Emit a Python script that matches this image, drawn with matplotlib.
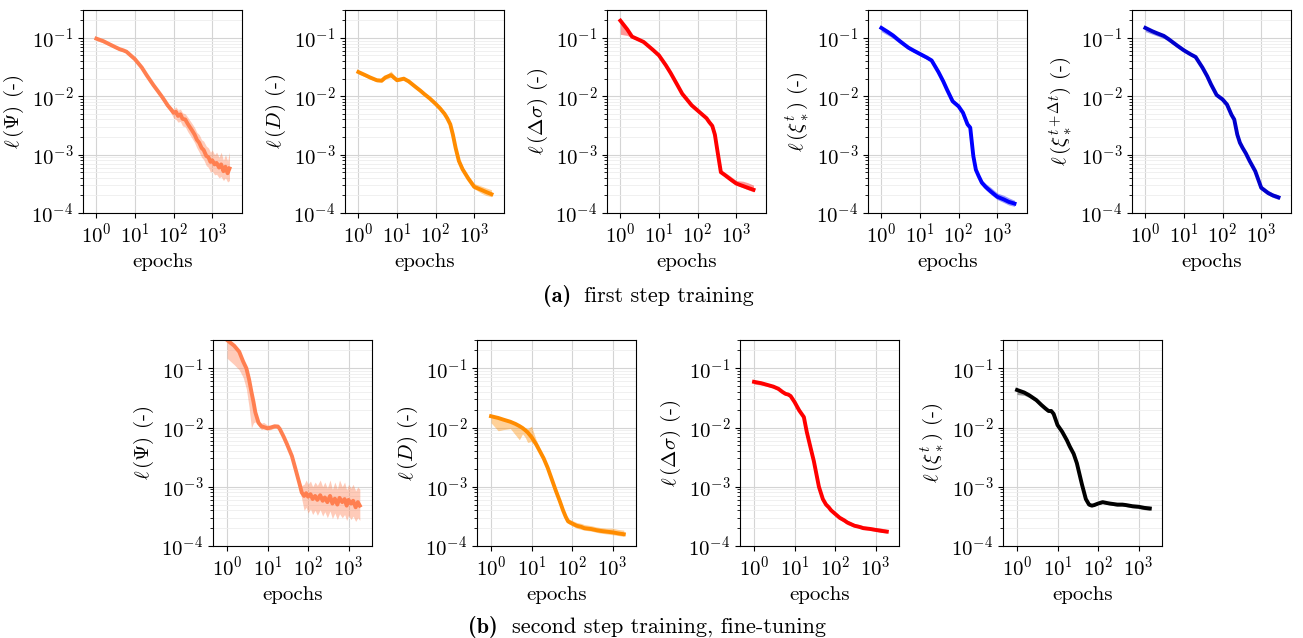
import matplotlib
matplotlib.use("Agg")
import matplotlib.pyplot as plt
import matplotlib.ticker as mticker

plt.rcParams["font.family"] = "serif"
plt.rcParams["font.serif"] = ["cmr10"]
plt.rcParams["mathtext.fontset"] = "cm"
plt.rcParams["axes.formatter.use_mathtext"] = True
plt.rcParams["axes.unicode_minus"] = False

# ---- first step training (top row) ----
ep_psi1 = [1, 1.5, 2, 3, 4, 5, 6, 7, 10, 15, 20, 30, 40, 50, 60, 70, 85, 100, 115, 130,
           150, 170, 200, 230, 260, 300, 350, 400, 460, 530, 600, 700, 800, 900, 1000,
           1150, 1300, 1500, 1700, 1950, 2200, 2500, 2800]
psi1_mean = [0.097, 0.088, 0.08, 0.07, 0.064, 0.061, 0.058, 0.053, 0.043, 0.031, 0.023,
             0.0155, 0.012, 0.0098, 0.0082, 0.007, 0.006, 0.0052, 0.0054, 0.0046, 0.0049,
             0.0041, 0.0040, 0.0034, 0.0030, 0.0026, 0.0022, 0.0018, 0.0016, 0.0013, 0.0012,
             0.00095, 0.0009, 0.00075, 0.0008, 0.00068, 0.00072, 0.0006, 0.00068, 0.00052,
             0.00062, 0.00048, 0.00058]
psi1_lo = [0.09, 0.082, 0.075, 0.066, 0.06, 0.058, 0.055, 0.05, 0.041, 0.029, 0.021,
           0.014, 0.011, 0.0088, 0.0072, 0.0062, 0.0052, 0.0042, 0.0040, 0.0036, 0.0037,
           0.0031, 0.0030, 0.0025, 0.0022, 0.0019, 0.0016, 0.0013, 0.0011, 0.0009, 0.00082,
           0.00065, 0.0006, 0.0005, 0.00052, 0.00045, 0.00046, 0.0004, 0.00042, 0.00036,
           0.0004, 0.00034, 0.00036]
psi1_hi = [0.1, 0.092, 0.083, 0.073, 0.067, 0.063, 0.06, 0.055, 0.045, 0.032, 0.024,
           0.0162, 0.0126, 0.0105, 0.0088, 0.0076, 0.0066, 0.006, 0.0066, 0.0058, 0.006,
           0.0052, 0.0050, 0.0044, 0.0039, 0.0034, 0.0029, 0.0024, 0.0022, 0.0018, 0.0017,
           0.0014, 0.0013, 0.0011, 0.0012, 0.001, 0.0011, 0.0009, 0.0011, 0.0008, 0.001,
           0.00078, 0.0011]

ep_top = [1, 1.5, 2, 3, 4, 5, 7, 10, 15, 20, 30, 40, 50, 70, 100, 130, 170, 200, 240,
          280, 330, 400, 500, 700, 1000, 1500, 2000, 2800]

d1_mean = [0.026, 0.023, 0.021, 0.0188, 0.0185, 0.021, 0.023, 0.0188, 0.020, 0.018, 0.0145,
           0.0125, 0.011, 0.0092, 0.0074, 0.0062, 0.0050, 0.0042, 0.0033, 0.0022, 0.0013,
           0.00078, 0.00056, 0.00039, 0.00028, 0.00025, 0.00023, 0.00021]
d1_lo = [0.024, 0.0215, 0.0196, 0.0176, 0.0173, 0.0195, 0.021, 0.0178, 0.0188, 0.0168, 0.0136,
         0.0117, 0.0103, 0.0086, 0.0069, 0.0058, 0.0047, 0.0039, 0.0031, 0.002, 0.0012,
         0.00072, 0.00051, 0.00036, 0.00026, 0.00022, 0.0002, 0.00019]
d1_hi = [0.0275, 0.0245, 0.0224, 0.02, 0.0197, 0.0225, 0.027, 0.0198, 0.0212, 0.0192, 0.0155,
         0.0134, 0.0118, 0.0099, 0.008, 0.0067, 0.0054, 0.0046, 0.0036, 0.0024, 0.0014,
         0.00086, 0.00062, 0.00044, 0.00032, 0.00029, 0.00027, 0.00025]

ds1_mean = [0.197, 0.14, 0.105, 0.093, 0.085, 0.075, 0.062, 0.05, 0.034, 0.025, 0.0155,
            0.011, 0.0092, 0.0070, 0.0057, 0.0049, 0.0042, 0.0036, 0.0031, 0.0022, 0.0011,
            0.0005, 0.00045, 0.00038, 0.00032, 0.00029, 0.00027, 0.00025]
ds1_lo = [0.115, 0.11, 0.1, 0.088, 0.08, 0.071, 0.059, 0.047, 0.032, 0.0235, 0.0146,
          0.0104, 0.0087, 0.0066, 0.0054, 0.0046, 0.004, 0.0034, 0.0029, 0.002, 0.001,
          0.00047, 0.00042, 0.00035, 0.0003, 0.00027, 0.00025, 0.00023]
ds1_hi = [0.2, 0.145, 0.11, 0.097, 0.089, 0.079, 0.065, 0.053, 0.036, 0.0265, 0.0164,
          0.0116, 0.0097, 0.0074, 0.006, 0.0052, 0.0044, 0.0038, 0.0033, 0.0024, 0.0012,
          0.00055, 0.0005, 0.00043, 0.00036, 0.00035, 0.00033, 0.0003]

xi1_mean = [0.148, 0.125, 0.11, 0.088, 0.076, 0.068, 0.06, 0.053, 0.046, 0.041, 0.026,
            0.018, 0.013, 0.0082, 0.0067, 0.0052, 0.0033, 0.0029, 0.00095, 0.00055, 0.00043,
            0.00033, 0.00028, 0.00023, 0.00019, 0.00017, 0.000155, 0.000145]
xi1_lo = [0.128, 0.11, 0.098, 0.08, 0.07, 0.063, 0.056, 0.049, 0.043, 0.038, 0.024,
          0.0166, 0.012, 0.0076, 0.0062, 0.0048, 0.003, 0.0026, 0.00088, 0.0005, 0.00039,
          0.0003, 0.00025, 0.000205, 0.00017, 0.00015, 0.000137, 0.00013]
xi1_hi = [0.156, 0.133, 0.117, 0.094, 0.081, 0.073, 0.064, 0.057, 0.049, 0.044, 0.028,
          0.0195, 0.014, 0.0088, 0.0072, 0.0056, 0.0036, 0.0032, 0.00105, 0.0006, 0.00048,
          0.00037, 0.00032, 0.00027, 0.00022, 0.0002, 0.000182, 0.000165]

xi2_mean = [0.148, 0.13, 0.12, 0.108, 0.095, 0.085, 0.072, 0.061, 0.052, 0.047, 0.031,
            0.022, 0.016, 0.0105, 0.0088, 0.0072, 0.0048, 0.0040, 0.0022, 0.0016, 0.0013,
            0.00105, 0.00078, 0.00052, 0.00027, 0.00022, 0.0002, 0.000185]
xi2_lo = [0.128, 0.116, 0.108, 0.098, 0.087, 0.078, 0.067, 0.057, 0.049, 0.044, 0.029,
          0.0205, 0.015, 0.0098, 0.0082, 0.0067, 0.0045, 0.0037, 0.002, 0.00148, 0.0012,
          0.00097, 0.00072, 0.00048, 0.00025, 0.000205, 0.000185, 0.00017]
xi2_hi = [0.155, 0.137, 0.126, 0.114, 0.1, 0.09, 0.076, 0.065, 0.055, 0.05, 0.033,
          0.0235, 0.017, 0.0112, 0.0094, 0.0077, 0.0051, 0.0043, 0.0024, 0.0017, 0.0014,
          0.00113, 0.00084, 0.00057, 0.0003, 0.000245, 0.00022, 0.000205]

# ---- second step training, fine-tuning (bottom row) ----
ep_psi2 = [1, 1.5, 2, 2.5, 3, 3.5, 4, 4.5, 5, 6, 7, 8, 10, 12, 15, 18, 20, 25, 30, 40, 50,
           60, 70, 80, 90, 100, 115, 130, 150, 170, 200, 230, 260, 300, 350, 400, 460, 530,
           600, 700, 800, 900, 1000, 1150, 1300, 1500, 1700, 1900]
psi2_mean = [0.3, 0.24, 0.19, 0.13, 0.1, 0.065, 0.04, 0.027, 0.018, 0.012, 0.0105, 0.0102,
             0.0097, 0.01, 0.0105, 0.0104, 0.0095, 0.007, 0.0053, 0.0033, 0.0019, 0.0012,
             0.0008, 0.0007, 0.00078, 0.00068, 0.00075, 0.00062, 0.0007, 0.0006, 0.00072,
             0.00058, 0.00066, 0.00055, 0.0007, 0.00052, 0.00063, 0.0005, 0.00065, 0.00055,
             0.00062, 0.00048, 0.0006, 0.00052, 0.00058, 0.00045, 0.00055, 0.00048]
psi2_lo = [0.148, 0.115, 0.094, 0.07, 0.045, 0.022, 0.0098, 0.012, 0.0125, 0.011, 0.0092,
           0.0095, 0.009, 0.0092, 0.0098, 0.0098, 0.009, 0.0065, 0.0049, 0.003, 0.0017,
           0.0011, 0.00062, 0.0004, 0.00045, 0.00036, 0.00042, 0.00034, 0.0004, 0.00033,
           0.00041, 0.00032, 0.00038, 0.0003, 0.00039, 0.00029, 0.00036, 0.00028, 0.00035,
           0.0003, 0.00034, 0.00027, 0.00033, 0.00028, 0.00032, 0.00026, 0.0003, 0.00027]
psi2_hi = [0.3, 0.25, 0.2, 0.137, 0.105, 0.068, 0.042, 0.028, 0.019, 0.0128, 0.0118, 0.0122,
           0.011, 0.0108, 0.011, 0.0109, 0.01, 0.0074, 0.0056, 0.0035, 0.002, 0.00135,
           0.00105, 0.0011, 0.0013, 0.0011, 0.00125, 0.001, 0.0012, 0.00105, 0.0013,
           0.001, 0.0012, 0.00095, 0.0013, 0.0009, 0.0012, 0.00092, 0.0013, 0.001,
           0.0012, 0.00088, 0.0011, 0.00095, 0.0011, 0.00085, 0.001, 0.0009]

ep_bot = [1, 1.5, 2, 3, 4, 5, 6, 7, 8, 10, 13, 17, 20, 25, 30, 40, 50, 60, 70, 80, 100,
          130, 170, 200, 300, 400, 500, 700, 1000, 1400, 1900]

d2_mean = [0.0155, 0.0145, 0.0136, 0.0125, 0.0115, 0.0106, 0.0098, 0.009, 0.0083, 0.0069,
           0.0052, 0.0037, 0.003, 0.0021, 0.00148, 0.00085, 0.00057, 0.0004, 0.00031,
           0.00026, 0.00024, 0.00022, 0.00021, 0.0002, 0.000193, 0.000185, 0.00018,
           0.000175, 0.00017, 0.000163, 0.000158]
d2_lo = [0.012, 0.0088, 0.0092, 0.0096, 0.0075, 0.0062, 0.0078, 0.0068, 0.0056, 0.0058,
         0.0048, 0.0034, 0.0028, 0.0019, 0.00137, 0.00079, 0.00053, 0.00037, 0.00029,
         0.00024, 0.00022, 0.0002, 0.00019, 0.000185, 0.000178, 0.00017, 0.000165,
         0.00016, 0.000155, 0.00015, 0.000145]
d2_hi = [0.0158, 0.0148, 0.0139, 0.0128, 0.0118, 0.0109, 0.0101, 0.0098, 0.0095, 0.0105,
         0.0062, 0.0041, 0.0033, 0.0023, 0.0016, 0.00092, 0.00062, 0.00044, 0.00034,
         0.00029, 0.00027, 0.00025, 0.00024, 0.00023, 0.00022, 0.00021, 0.000205,
         0.0002, 0.0002, 0.00019, 0.000185]

ds2_mean = [0.059, 0.056, 0.053, 0.049, 0.045, 0.04, 0.037, 0.036, 0.034, 0.027, 0.0195,
            0.015, 0.0085, 0.0045, 0.0027, 0.001, 0.00062, 0.0005, 0.00045, 0.0004,
            0.00035, 0.0003, 0.00027, 0.00025, 0.00022, 0.00021, 0.0002, 0.000195,
            0.000187, 0.00018, 0.000175]
ds2_lo = [0.054, 0.052, 0.05, 0.046, 0.042, 0.038, 0.035, 0.034, 0.032, 0.025, 0.018,
          0.0138, 0.0078, 0.0041, 0.0025, 0.00092, 0.00058, 0.00047, 0.00042, 0.00037,
          0.00033, 0.00028, 0.00025, 0.00023, 0.00021, 0.0002, 0.00019, 0.000185,
          0.000177, 0.00017, 0.000165]
ds2_hi = [0.062, 0.059, 0.056, 0.052, 0.047, 0.042, 0.039, 0.038, 0.036, 0.029, 0.021,
          0.016, 0.0092, 0.0049, 0.0029, 0.00108, 0.00067, 0.00054, 0.00048, 0.00043,
          0.00038, 0.00032, 0.00029, 0.00027, 0.00024, 0.00023, 0.00022, 0.00021,
          0.000205, 0.0002, 0.00019]

xi3_mean = [0.043, 0.039, 0.035, 0.029, 0.024, 0.021, 0.019, 0.019, 0.017, 0.011, 0.0085,
            0.0061, 0.0048, 0.0036, 0.0025, 0.0011, 0.00062, 0.0005, 0.00048, 0.00049,
            0.00052, 0.00055, 0.00053, 0.00052, 0.0005, 0.0005, 0.00049, 0.00047, 0.00046,
            0.00044, 0.00043]
xi3_lo = [0.036, 0.035, 0.032, 0.027, 0.0225, 0.0197, 0.018, 0.018, 0.016, 0.0104, 0.008,
          0.0058, 0.0045, 0.0034, 0.0023, 0.00102, 0.00058, 0.00047, 0.00046, 0.00047,
          0.0005, 0.00052, 0.0005, 0.00049, 0.00047, 0.00047, 0.00046, 0.00044, 0.00043,
          0.00041, 0.0004]
xi3_hi = [0.044, 0.04, 0.036, 0.03, 0.025, 0.022, 0.02, 0.0205, 0.018, 0.0116, 0.0089,
          0.0064, 0.005, 0.0038, 0.0026, 0.00116, 0.00066, 0.00053, 0.0005, 0.00051,
          0.00055, 0.00058, 0.00056, 0.00055, 0.00053, 0.00053, 0.00052, 0.0005, 0.00049,
          0.00047, 0.00047]

fig = plt.figure(figsize=(13.03, 6.38), dpi=100)
W, H = 1303.0, 638.0
FS = 15


def panel(left, top, width, height, ep, mean, lo, hi, color, ylabel, xmax):
    ax = fig.add_axes([left / W, 1 - (top + height) / H, width / W, height / H])
    ax.fill_between(ep, lo, hi, color=color, alpha=0.4, lw=0)
    ax.plot(ep, mean, color=color, lw=2.8)
    ax.set_xscale("log")
    ax.set_yscale("log")
    ax.set_xlim(0.45, xmax)
    ax.set_ylim(1e-4, 0.3)
    ax.xaxis.set_major_locator(mticker.FixedLocator([1, 10, 100, 1000]))
    ax.xaxis.set_minor_locator(mticker.NullLocator())
    ax.yaxis.set_major_locator(mticker.LogLocator(base=10, numticks=10))
    ax.yaxis.set_minor_locator(mticker.LogLocator(base=10, subs=range(2, 10), numticks=10))
    ax.yaxis.set_minor_formatter(mticker.NullFormatter())
    ax.grid(True, which="major", color="#d4d4d4", lw=0.8)
    ax.grid(True, which="minor", axis="y", color="#eeeeee", lw=0.6)
    ax.set_axisbelow(True)
    ax.tick_params(labelsize=FS)
    ax.set_xlabel("epochs", fontsize=FS)
    ax.set_ylabel(ylabel, fontsize=FS)
    return ax


top_lefts = [83, 345, 607, 868, 1132]
top_data = [
    (ep_psi1, psi1_mean, psi1_lo, psi1_hi, "#ff7f50", r"$\ell\,(\Psi)$ (-)"),
    (ep_top, d1_mean, d1_lo, d1_hi, "#ff8c00", r"$\ell\,(D)$ (-)"),
    (ep_top, ds1_mean, ds1_lo, ds1_hi, "#ff0000", r"$\ell\,(\Delta\sigma)$ (-)"),
    (ep_top, xi1_mean, xi1_lo, xi1_hi, "#0000ff", r"$\ell\,(\xi_*^t)$ (-)"),
    (ep_top, xi2_mean, xi2_lo, xi2_hi, "#0000cd", r"$\ell\,(\xi_*^{t+\Delta t})$ (-)"),
]
for left, (ep, m, lo, hi, c, lab) in zip(top_lefts, top_data):
    panel(left, 10, 159, 203, ep, m, lo, hi, c, lab, 5900)

bot_lefts = [213, 477, 740, 1003]
bot_data = [
    (ep_psi2, psi2_mean, psi2_lo, psi2_hi, "#ff7f50", r"$\ell\,(\Psi)$ (-)"),
    (ep_bot, d2_mean, d2_lo, d2_hi, "#ff8c00", r"$\ell\,(D)$ (-)"),
    (ep_bot, ds2_mean, ds2_lo, ds2_hi, "#ff0000", r"$\ell\,(\Delta\sigma)$ (-)"),
    (ep_bot, xi3_mean, xi3_lo, xi3_hi, "#000000", r"$\ell\,(\xi_*^t)$ (-)"),
]
for left, (ep, m, lo, hi, c, lab) in zip(bot_lefts, bot_data):
    panel(left, 340, 159, 206, ep, m, lo, hi, c, lab, 3800)

# sub-captions: bold label + regular text
fig.text(543 / W, 1 - 296 / H, "(a)", family="cmb10", ha="left", va="center", fontsize=16)
fig.text(584 / W, 1 - 296 / H, "first step training", ha="left", va="center", fontsize=16)
fig.text(468 / W, 1 - 627 / H, "(b)", family="cmb10", ha="left", va="center", fontsize=16)
fig.text(512 / W, 1 - 627 / H, "second step training, fine-tuning", ha="left", va="center",
         fontsize=16)

fig.savefig("out.png", dpi=100)
